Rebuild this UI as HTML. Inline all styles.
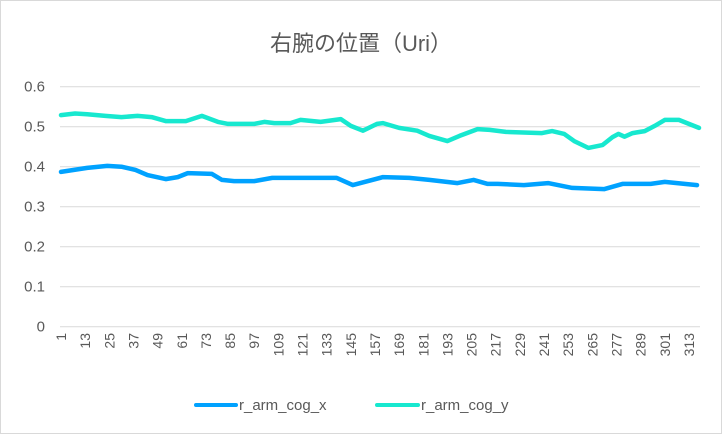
<!DOCTYPE html>
<html><head><meta charset="utf-8">
<style>
html,body{margin:0;padding:0;background:#fff;}
svg text{font-family:"Liberation Sans","Noto Sans CJK JP",sans-serif;fill:#595959;}
</style></head>
<body>
<svg id="chart" width="722" height="434" xmlns="http://www.w3.org/2000/svg">
<rect x="0.5" y="0.5" width="721" height="433" fill="#fff" stroke="#d9d9d9"/>
<text x="361" y="51" font-size="22" text-anchor="middle" style="font-family:'Liberation Sans','Noto Sans CJK JP',sans-serif">右腕の位置（Uri）</text>
<g id="grid"></g><g id="yticks"></g><g id="xticks"></g><g id="series"></g>
<g>
<line x1="196" y1="405" x2="236" y2="405" stroke="#00a2ff" stroke-width="4" stroke-linecap="round"/>
<text x="239" y="410" font-size="15">r_arm_cog_x</text>
<line x1="377" y1="405" x2="418" y2="405" stroke="#17e8cf" stroke-width="4" stroke-linecap="round"/>
<text x="421" y="410" font-size="15">r_arm_cog_y</text>
</g>
</svg>
<script>
const yTickLabels=["0","0.1","0.2","0.3","0.4","0.5","0.6"];
const yTickValues=[0,0.1,0.2,0.3,0.4,0.5,0.6];
const categoryCount=318;
const xCats=[1,14,24,31,38,44,53,59,64,76,81,87,97,106,138,146,161,174,184,198,206,213,218,231,243,255,271,280,294,301,317];
const xVals=[0.387,0.397,0.402,0.400,0.392,0.379,0.369,0.374,0.384,0.382,0.367,0.364,0.364,0.372,0.372,0.354,0.374,0.372,0.367,0.359,0.367,0.357,0.357,0.354,0.359,0.347,0.344,0.357,0.357,0.362,0.354];
const yCats=[1,8,14,23,31,39,46,53,63,71,79,84,97,102,107,115,120,130,140,145,151,158,161,169,178,184,193,199,208,214,222,240,245,251,256,263,270,275,278,281,285,291,296,301,308,313,318];
const yVals=[0.529,0.533,0.531,0.527,0.524,0.527,0.524,0.514,0.514,0.527,0.512,0.507,0.507,0.512,0.509,0.509,0.517,0.512,0.519,0.502,0.490,0.507,0.509,0.497,0.490,0.477,0.464,0.477,0.494,0.492,0.487,0.484,0.489,0.482,0.464,0.447,0.454,0.474,0.482,0.475,0.484,0.489,0.502,0.517,0.517,0.507,0.497];
const X0=60,X1=700,Y0=326.7,PX=400;
const bw=(X1-X0)/categoryCount;
function xs(c){return X0+(c-0.5)*bw;}
function ys(v){return Y0-v*PX;}
const NS="http://www.w3.org/2000/svg";
const grid=document.getElementById('grid'),yt=document.getElementById('yticks'),xt=document.getElementById('xticks'),ser=document.getElementById('series');
yTickValues.forEach((v,i)=>{
 const l=document.createElementNS(NS,'line');
 
 
 l.setAttribute('x1',X0);l.setAttribute('x2',X1);l.setAttribute('y1',ys(v));l.setAttribute('y2',ys(v));
 l.setAttribute('stroke','#d9d9d9');l.setAttribute('stroke-width','1');
 grid.appendChild(l);
 const t=document.createElementNS(NS,'text');
 
 
 t.setAttribute('x',45);t.setAttribute('y',ys(v)+5);t.setAttribute('text-anchor','end');t.setAttribute('font-size','15');
 t.textContent=yTickLabels[i];yt.appendChild(t);
});
for(let c=1;c<=categoryCount;c+=12){
 const t=document.createElementNS(NS,'text');
 
 
 const x=xs(c)+5,y=333;
 t.setAttribute('x',x);t.setAttribute('y',y);t.setAttribute('text-anchor','end');t.setAttribute('font-size','14');
 t.setAttribute('transform','rotate(-90 '+x+' '+y+')');
 t.textContent=String(c);xt.appendChild(t);
}
function draw(cats,vals,color,name){
 const p=document.createElementNS(NS,'polyline');
 
 
 p.setAttribute('points',cats.map((c,i)=>xs(c).toFixed(1)+','+ys(vals[i]).toFixed(1)).join(' '));
 p.setAttribute('fill','none');p.setAttribute('stroke',color);p.setAttribute('stroke-width','4.5');p.setAttribute('stroke-linejoin','round');p.setAttribute('stroke-linecap','round');
 ser.appendChild(p);
}
draw(xCats,xVals,'#00a2ff','series-r-arm-cog-x');
draw(yCats,yVals,'#17e8cf','series-r-arm-cog-y');
</script>
</body></html>
